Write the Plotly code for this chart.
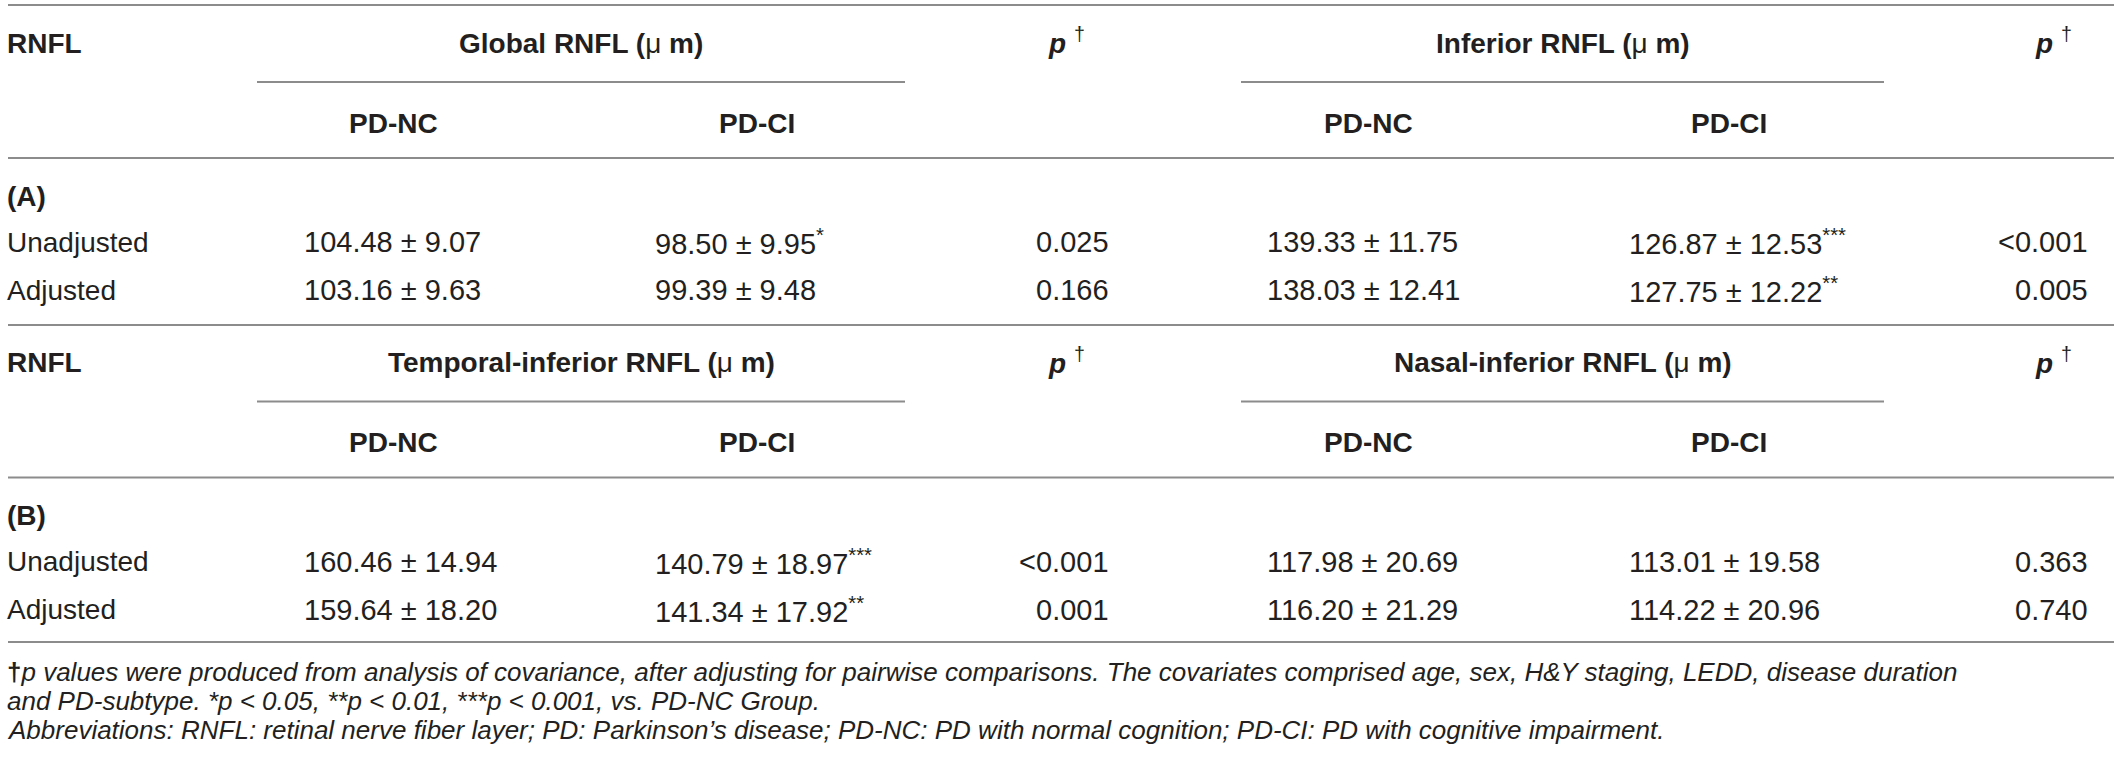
import plotly.graph_objects as go

# ---------------- data ----------------
row_label_header = "RNFL"
sections = ["(A)", "(B)"]
adjustments = ["Unadjusted", "Adjusted"]
groups = ["PD-NC", "PD-CI"]
measures = [["Global RNFL", "Inferior RNFL"],
            ["Temporal-inferior RNFL", "Nasal-inferior RNFL"]]

# means / SDs per section -> measure -> adjustment
nc_mean = [[[104.48, 103.16], [139.33, 138.03]],
           [[160.46, 159.64], [117.98, 116.20]]]
nc_sd = [[[9.07, 9.63], [11.75, 12.41]],
         [[14.94, 18.20], [20.69, 21.29]]]
ci_mean = [[[98.50, 99.39], [126.87, 127.75]],
           [[140.79, 141.34], [113.01, 114.22]]]
ci_sd = [[[9.95, 9.48], [12.53, 12.22]],
         [[18.97, 17.92], [19.58, 20.96]]]
ci_stars = [[["*", ""], ["***", "**"]],
            [["***", "**"], ["", ""]]]
p_values = [[["0.025", "0.166"], ["<0.001", "0.005"]],
            [["<0.001", "0.001"], ["0.363", "0.740"]]]

footnote_lines = [
    "<b>†</b><i>p values were produced from analysis of covariance, after adjusting for pairwise comparisons. The covariates comprised age, sex, H&Y staging, LEDD, disease duration</i>",
    "<i>and PD-subtype. *p < 0.05, **p < 0.01, ***p < 0.001, vs. PD-NC Group.</i>",
    "<i>Abbreviations: RNFL: retinal nerve fiber layer; PD: Parkinson’s disease; PD-NC: PD with normal cognition; PD-CI: PD with cognitive impairment.</i>",
]

# ---------------- layout constants ----------------
W, H = 2120, 772
FONT = "Liberation Sans, Arial, Helvetica, sans-serif"
TXT = "#231f20"
RULE = "#8c8c8c"
FS = 28
FS_NUM = 29
FS_NOTE = 26

x_label = 5
x_left, x_right = 8, 2114
nc_x = [302, 1265]        # left edge of PD-NC values
ci_x = [653, 1627]        # left edge of PD-CI values
nc_hdr = [393, 1368]
ci_hdr = [757, 1729]
p_right = [1111, 2090]
p_hdr = [1066, 2053]
span = [(257, 905), (1241, 1884)]

# y positions per section block
y0 = [0, 319.5]
top_rule = 5
mid_rule = 325
bottom_rule = 642
d_title, d_part, d_sub, d_rule, d_sec, d_r1, d_r2 = 43, 82, 123, 158, 196, 242, 290
note_y = [672, 701, 730]

fig = go.Figure()
ann = []
shapes = []


def text(x, y, s, anchor="left", size=FS, yanchor="middle"):
    ann.append(dict(x=x, y=y, xref="x", yref="y", text=s, showarrow=False,
                    xanchor=anchor, yanchor=yanchor,
                    font=dict(family=FONT, size=size, color=TXT)))


def rule(x0, x1, y):
    shapes.append(dict(type="line", xref="x", yref="y", x0=x0, x1=x1, y0=y, y1=y,
                       line=dict(color=RULE, width=2)))


rule(x_left, x_right, top_rule)
for s in range(2):
    b = y0[s]
    text(x_label, b + d_title, "<b>" + row_label_header + "</b>")
    for m in range(2):
        cx = (span[m][0] + span[m][1]) / 2
        text(cx, b + d_title, "<b>" + measures[s][m] + " (</b>μ <b>m)</b>", anchor="center")
        rule(span[m][0], span[m][1], b + d_part)
        text(nc_hdr[m], b + d_sub, "<b>" + groups[0] + "</b>", anchor="center")
        text(ci_hdr[m], b + d_sub, "<b>" + groups[1] + "</b>", anchor="center")
        text(p_hdr[m], b + d_title - 2, "<b><i>p</i></b> <sup>†</sup>", anchor="center")
    rule(x_left, x_right, b + d_rule)
    text(x_label, b + d_sec, "<b>" + sections[s] + "</b>")
    for r, yy in enumerate([b + d_r1, b + d_r2]):
        text(x_label, yy, adjustments[r])
        for m in range(2):
            text(nc_x[m], yy, f"{nc_mean[s][m][r]:.2f} ± {nc_sd[s][m][r]:.2f}", size=FS_NUM)
            st = ci_stars[s][m][r]
            stxt = f"<sup>{st}</sup>" if st else ""
            text(ci_x[m], yy, f"{ci_mean[s][m][r]:.2f} ± {ci_sd[s][m][r]:.2f}" + stxt, size=FS_NUM)
            text(p_right[m], yy, p_values[s][m][r], anchor="right", size=FS_NUM)
rule(x_left, x_right, mid_rule)
rule(x_left, x_right, bottom_rule)

for ln, yy in zip(footnote_lines, note_y):
    text(x_label, yy, ln, size=FS_NOTE)

fig.update_layout(
    width=W, height=H,
    margin=dict(l=0, r=0, t=0, b=0),
    paper_bgcolor="white", plot_bgcolor="white",
    xaxis=dict(range=[0, W], visible=False, fixedrange=True),
    yaxis=dict(range=[H, 0], visible=False, fixedrange=True),
    annotations=ann, shapes=shapes, showlegend=False,
)
fig.write_html("out.html", config={"displayModeBar": False},
               post_script="document.body.style.margin='0px';")
